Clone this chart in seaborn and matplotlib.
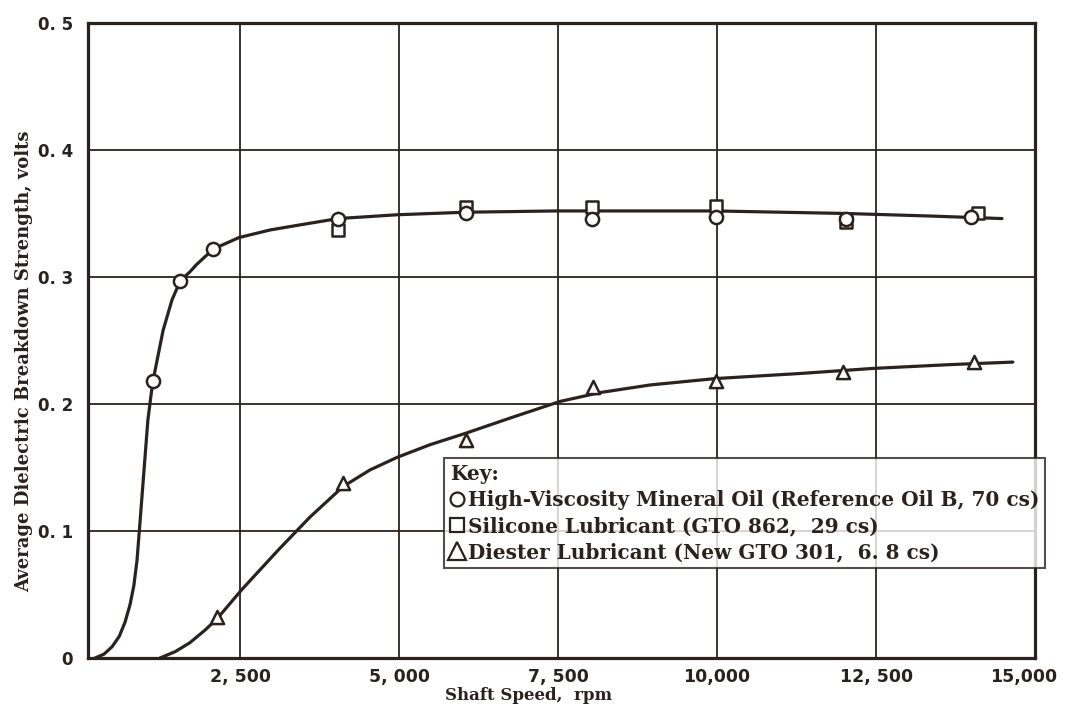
import matplotlib
matplotlib.use("Agg")
import matplotlib.pyplot as plt
import matplotlib.transforms as mtransforms
import seaborn as sns
from matplotlib.lines import Line2D

INK = "#2b221d"

# Measured breakdown strength (volts) versus shaft speed (rpm)
mineral_rpm = [1130, 1560, 2080, 4040, 6050, 8040, 9990, 12030, 14000]
mineral_v = [0.218, 0.297, 0.322, 0.346, 0.350, 0.346, 0.347, 0.346, 0.347]

silicone_rpm = [4040, 6060, 8040, 9990, 12030, 14100]
silicone_v = [0.337, 0.355, 0.355, 0.356, 0.343, 0.350]

diester_rpm = [2140, 4120, 6050, 8050, 9990, 11980, 14040]
diester_v = [0.032, 0.138, 0.172, 0.213, 0.218, 0.225, 0.233]

# Faired curves through the data
upper_curve_rpm = [220, 360, 490, 600, 690, 770, 830, 880, 930, 990, 1050, 1100,
                   1130, 1210, 1290, 1430, 1560, 1710, 1820, 2080, 2480, 2970,
                   3440, 4040, 4970, 6050, 7470, 9970, 12030, 13350, 14480]
upper_curve_v = [0.000, 0.003, 0.009, 0.017, 0.028, 0.042, 0.057, 0.077, 0.109,
                 0.148, 0.187, 0.207, 0.218, 0.238, 0.258, 0.282, 0.297, 0.304,
                 0.310, 0.322, 0.331, 0.337, 0.341, 0.346, 0.349, 0.351, 0.352,
                 0.352, 0.350, 0.348, 0.346]

lower_curve_rpm = [1240, 1480, 1710, 1950, 2140, 2530, 3100, 3600, 4120, 4540,
                   4970, 5490, 6050, 6750, 7530, 8160, 8950, 9970, 11300, 12450,
                   13660, 14650]
lower_curve_v = [0.000, 0.005, 0.012, 0.022, 0.031, 0.054, 0.085, 0.111, 0.135,
                 0.148, 0.158, 0.168, 0.177, 0.189, 0.202, 0.209, 0.215, 0.220,
                 0.224, 0.228, 0.231, 0.233]

x_ticks = [2500, 5000, 7500, 10000, 12500, 15000]
x_tick_labels = ["2, 500", "5, 000", "7, 500", "10,000", "12, 500", "15,000"]
y_ticks = [0.0, 0.1, 0.2, 0.3, 0.4, 0.5]
y_tick_labels = ["0", "0. 1", "0. 2", "0. 3", "0. 4", "0. 5"]

legend_labels = [
    "High-Viscosity Mineral Oil (Reference Oil B, 70 cs)",
    "Silicone Lubricant (GTO 862,  29 cs)",
    "Diester Lubricant (New GTO 301,  6. 8 cs)",
]

sns.set_style("white")
plt.rcParams["font.family"] = ["DejaVu Serif"]

fig = plt.figure(figsize=(10.66, 7.07), dpi=100)
ax = fig.add_axes([0.0826, 0.0693, 0.8884, 0.8982])

# grid
for xv in x_ticks[:-1]:
    ax.axvline(xv, color=INK, lw=1.3, zorder=1)
for yv in y_ticks[1:-1]:
    ax.axhline(yv, color=INK, lw=1.3, zorder=1)

# curves
line_kw = dict(ax=ax, color=INK, lw=2.3, sort=False, estimator=None, zorder=3)
sns.lineplot(x=upper_curve_rpm, y=upper_curve_v, **line_kw)
sns.lineplot(x=lower_curve_rpm, y=lower_curve_v, **line_kw)
for ln in ax.get_lines():
    ln.set_solid_joinstyle("round")
    ln.set_solid_capstyle("round")

# data points
mk = dict(ax=ax, facecolor="white", edgecolor=INK, linewidth=1.8, zorder=4)
sns.scatterplot(x=silicone_rpm, y=silicone_v, marker="s", s=80, **mk)
sns.scatterplot(x=mineral_rpm, y=mineral_v, marker="o", s=90, **mk)
sns.scatterplot(x=diester_rpm, y=diester_v, marker="^", s=90, **mk)

ax.set_xlim(110, 15000)
ax.set_ylim(0, 0.5)
ax.set_xticks(x_ticks)
ax.set_xticklabels(x_tick_labels, fontfamily="DejaVu Sans", fontweight="bold",
                   fontsize=12.5, color=INK)
ax.set_yticks(y_ticks)
ax.set_yticklabels(y_tick_labels, fontfamily="DejaVu Sans", fontweight="bold",
                   fontsize=12, color=INK)
ax.tick_params(axis="both", length=0)
ax.tick_params(axis="x", pad=7)
ax.tick_params(axis="y", pad=11)

# keep the last speed label inside the figure edge
last = ax.get_xticklabels()[-1]
last.set_transform(last.get_transform() +
                   mtransforms.ScaledTranslation(-8 / 72, 0, fig.dpi_scale_trans))

for side in ax.spines.values():
    side.set_visible(True)
    side.set_color(INK)
    side.set_linewidth(2.3)

ax.set_xlabel("Shaft Speed,  rpm", fontsize=12, fontweight="bold", color=INK)
ax.xaxis.set_label_coords(0.465, -0.046)
ax.set_ylabel("Average Dielectric Breakdown Strength, volts", fontsize=13,
              fontweight="bold", color=INK)
ax.yaxis.set_label_coords(-0.058, 0.468)

handles = [
    Line2D([], [], ls="none", marker="o", ms=10, mfc="white", mec=INK, mew=1.6),
    Line2D([], [], ls="none", marker="s", ms=10, mfc="white", mec=INK, mew=1.6),
    Line2D([], [], ls="none", marker="^", ms=13, mfc="white", mec=INK, mew=1.6),
]
leg = ax.legend(handles, legend_labels, title="Key:", loc="lower right",
                bbox_to_anchor=(1.0106, 0.1417), borderaxespad=0.0,
                frameon=True, fancybox=False, handlelength=0.75,
                handletextpad=0.15, borderpad=0.3, labelspacing=0.3,
                prop={"weight": "bold", "size": 14.4})
leg.get_title().set_fontweight("bold")
leg.get_title().set_fontsize(14.4)
leg._legend_box.align = "left"
leg.get_frame().set_edgecolor(INK)
leg.get_frame().set_linewidth(1.5)
for t in leg.get_texts():
    t.set_color(INK)
leg.get_title().set_color(INK)
leg.set_zorder(5)

fig.savefig("out.png", dpi=100, facecolor="white")
